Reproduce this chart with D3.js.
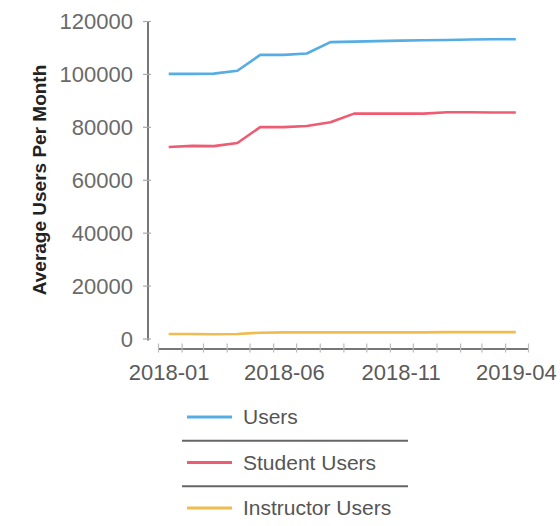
<!DOCTYPE html>
<html>
<head>
<meta charset="utf-8">
<script src="https://cdn.jsdelivr.net/npm/d3@7"></script>
<style>
  html, body { margin: 0; padding: 0; background: #fff; }
  svg { display: block; font-family: "Liberation Sans", Arial, sans-serif; }
</style>
</head>
<body>
<svg id="chart" width="560" height="526"></svg>
<script>
// ---- data ----
const months = ["2018-01","2018-02","2018-03","2018-04","2018-05","2018-06","2018-07","2018-08",
                "2018-09","2018-10","2018-11","2018-12","2019-01","2019-02","2019-03","2019-04"];
const users      = [100000, 100000, 100100, 101200, 107200, 107200, 107700, 112000,
                    112200, 112400, 112600, 112700, 112800, 113000, 113100, 113100];
const students   = [72400, 72800, 72700, 73900, 79900, 79900, 80300, 81700,
                    85000, 85000, 85000, 85000, 85500, 85500, 85400, 85400];
const instructors= [1700, 1700, 1600, 1700, 2200, 2300, 2300, 2300,
                    2300, 2300, 2300, 2300, 2400, 2400, 2400, 2400];
const tickLabels = ["2018-01","2018-06","2018-11","2019-04"];
const yTicks     = [0, 20000, 40000, 60000, 80000, 100000, 120000];
const seriesNames  = ["Users", "Student Users", "Instructor Users"];
const seriesColors = ["#55ade3", "#ef5b73", "#f0bb4f"];
const seriesValues = [users, students, instructors];

// ---- scales ----
const svg = d3.select("#chart");
const parseMonth = d3.timeParse("%Y-%m");
const mid = s => d3.timeDay.offset(parseMonth(s), 14);
const x = d3.scaleTime()
  .domain([parseMonth("2018-01"), parseMonth("2019-05")])
  .range([158, 528]);
const y = d3.scaleLinear().domain([0, 120000]).range([338.5, 21]);

// ---- y axis ----
const yAxis = svg.append("g").attr("transform", "translate(148,0)")
  .call(d3.axisLeft(y).tickValues(yTicks).tickSizeInner(5).tickSizeOuter(0).tickPadding(10).tickFormat(d3.format("d")));
yAxis.select(".domain").attr("stroke", "#777").attr("stroke-width", 2).attr("d", `M0,${y(120000)}V${y(0)+2}`);
yAxis.selectAll(".tick line").attr("x2", -5).attr("x1", 3).attr("stroke", "#aaa").attr("stroke-width", 1.2);
yAxis.selectAll(".tick text").attr("font-size", 22).attr("fill", "#6a6a6a").attr("dy", "0.35em")
  .attr("font-family", "'Liberation Sans', Arial, sans-serif");

// ---- x axis ----
const xAxis = svg.append("g").attr("transform", "translate(0,348.5)")
  .call(d3.axisBottom(x).ticks(d3.timeMonth.every(1)).tickSizeOuter(0).tickFormat(""));
xAxis.select(".domain").attr("stroke", "#777").attr("stroke-width", 2);
xAxis.selectAll(".tick line").attr("y1", -5).attr("y2", 4).attr("stroke", "#bbb").attr("stroke-width", 1.2);

const xLabels = svg.append("g").attr("transform", "translate(0,348.5)")
  .call(d3.axisBottom(x).tickValues(tickLabels.map(mid)).tickSize(0).tickPadding(16)
        .tickFormat(d3.timeFormat("%Y-%m")));
xLabels.select(".domain").remove();
xLabels.selectAll(".tick text").attr("font-size", 22).attr("fill", "#5a5a5a")
  .attr("font-family", "'Liberation Sans', Arial, sans-serif");

// ---- y title ----
svg.append("text")
  .attr("transform", "translate(46,180) rotate(-90)")
  .attr("text-anchor", "middle")
  .attr("font-size", 19)
  .attr("font-weight", "bold")
  .attr("fill", "#222")
  .text("Average Users Per Month");

// ---- lines ----
const line = d3.line().x((d, i) => x(mid(months[i]))).y(d => y(d));
seriesValues.forEach((vals, k) => {
  svg.append("path")
    .datum(vals)
    .attr("fill", "none")
    .attr("stroke", seriesColors[k])
    .attr("stroke-width", 2.6)
    .attr("stroke-linejoin", "round")
    .attr("d", line);
});

// ---- legend ----
const legY = d3.scalePoint().domain(seriesNames).range([417, 508]);
const leg = svg.append("g");
seriesNames.forEach((name, k) => {
  const yy = legY(name);
  leg.append("line").attr("x1", 187).attr("x2", 232).attr("y1", yy).attr("y2", yy)
    .attr("stroke", seriesColors[k]).attr("stroke-width", 3);
  leg.append("text").attr("x", 243).attr("y", yy).attr("dy", "0.35em")
    .attr("font-size", 21).attr("fill", "#555").text(name);
  if (k < seriesNames.length - 1) {
    const sy = (yy + legY(seriesNames[k + 1])) / 2 + 1;
    leg.append("line").attr("x1", 182).attr("x2", 408).attr("y1", sy).attr("y2", sy)
      .attr("stroke", "#666").attr("stroke-width", 2);
  }
});
</script>
</body>
</html>
